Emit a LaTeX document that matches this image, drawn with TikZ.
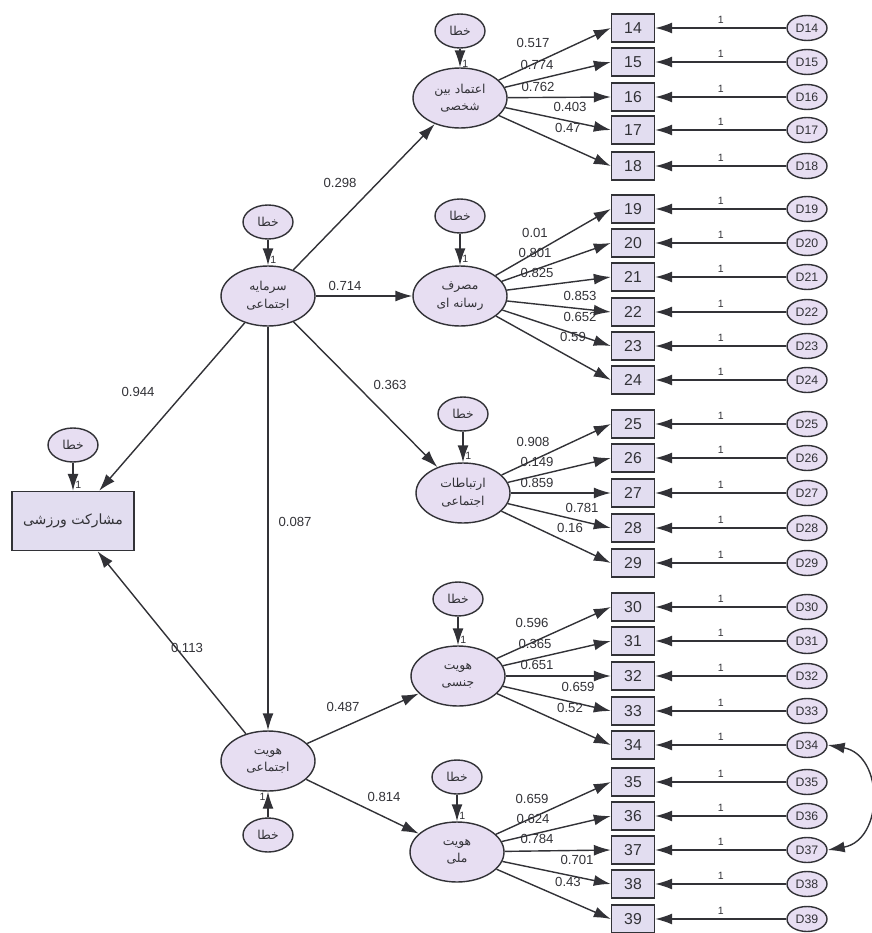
\documentclass[tikz,border=0pt]{standalone}
\usepackage{fontspec}
\setmainfont{Liberation Sans}
\newfontfamily\arabicfont[Script=Arabic]{DejaVu Sans}
\TeXXeTstate=1
\usetikzlibrary{arrows.meta,shapes.geometric}
\newcommand{\fa}[1]{{\arabicfont\beginR #1\endR}}
\definecolor{lav}{RGB}{231,222,242}
\definecolor{boxfill}{RGB}{226,221,240}
\definecolor{ink}{RGB}{50,50,55}
\tikzset{
  latent/.style={ellipse,draw=ink,thick,fill=lav,text=ink,minimum width=1.88cm,minimum height=1.2cm,inner sep=1pt,align=center,font=\fontsize{7}{10}\selectfont},
  resid/.style={ellipse,draw=ink,thick,fill=lav,text=ink,minimum width=1cm,minimum height=0.68cm,inner sep=1pt,font=\fontsize{7}{8}\selectfont},
  dvar/.style={ellipse,draw=ink,thick,fill=lav,text=ink,minimum width=0.8cm,minimum height=0.5cm,inner sep=0pt,font=\fontsize{7}{8}\selectfont},
  obs/.style={rectangle,draw=ink,thick,fill=boxfill,text=ink,minimum width=0.86cm,minimum height=0.56cm,font=\fontsize{9}{10}\selectfont},
  arr/.style={draw=ink,thick,-{Latex[length=3.4mm,width=2.2mm]}},
  coef/.style={font=\fontsize{7.5}{8}\selectfont,text=ink,inner sep=0pt},
  one/.style={font=\fontsize{6}{7}\selectfont,text=ink,inner sep=1pt}
}
\begin{document}
\begin{tikzpicture}[x=0.02cm,y=-0.02cm]
  \useasboundingbox (0,0) rectangle (872,933);

  \node[latent] (capital) at (268,296) {\fa{سرمایه}\\\fa{اجتماعی}};
  \node[latent] (identity) at (268,761) {\fa{هویت}\\\fa{اجتماعی}};
  \node[latent] (trust) at (460,98) {\fa{اعتماد بین}\\\fa{شخصی}};
  \node[latent] (media) at (460,296) {\fa{مصرف}\\\fa{رسانه ای}};
  \node[latent] (comm) at (463,493) {\fa{ارتباطات}\\\fa{اجتماعی}};
  \node[latent] (gender) at (458,676) {\fa{هویت}\\\fa{جنسی}};
  \node[latent] (nation) at (457,852) {\fa{هویت}\\\fa{ملی}};
  \node[obs,minimum width=2.44cm,minimum height=1.18cm,font=\fontsize{8}{9}\selectfont] (sport) at (73,521) {\fa{مشارکت ورزشی}};

  % error terms
  \foreach \pos/\name/\side in {{(268,222)/capital/right}, {(268,835)/identity/left}, {(460,31)/trust/right}, {(460,216)/media/right}, {(463,414)/comm/right}, {(458,599)/gender/right}, {(457,777)/nation/right}, {(73,445)/sport/right}}
  {
    \node[resid] (e-\name) at \pos {\fa{خطا}};
    \draw[arr] (e-\name) -- node[one,pos=0.8,\side]{1} (\name);
  }

  \foreach \pos/\source/\dest/\val in {{(340,183)/capital/trust/0.298}, {(345,286)/capital/media/0.714}, {(390,385)/capital/comm/0.363}, {(138,392)/capital/sport/0.944}, {(295,522)/capital/identity/0.087}, {(187,648)/identity/sport/0.113}, {(343,707)/identity/gender/0.487}, {(384,797)/identity/nation/0.814}}
  {
    \draw[arr] (\source) -- (\dest);
    \node[coef] (c-\source-\dest) at \pos {\val};
  }

  % indicators
  \foreach \n/\y in {14/28, 15/62, 16/97, 17/130, 18/166, 19/209, 20/243, 21/277, 22/312, 23/346, 24/380, 25/424, 26/458, 27/493, 28/528, 29/563, 30/607, 31/641, 32/676, 33/711, 34/745, 35/782, 36/816, 37/850, 38/884, 39/919}
  {
    \node[obs] (x\n) at (633,\y) {\n};
    \node[dvar] (d\n) at (807,\y) {D\n};
    \draw[arr] (d\n) -- node[one,above=1pt]{1} (x\n);
  }

  \foreach \pos/\lat/\n/\val in {{(533,43)/trust/14/0.517}, {(537,65)/trust/15/0.774}, {(538,87)/trust/16/0.762}, {(570,107)/trust/17/0.403}, {(568,128)/trust/18/0.47},
    {(535,233)/media/19/0.01}, {(535,253)/media/20/0.801}, {(537,273)/media/21/0.825}, {(580,296)/media/22/0.853}, {(580,317)/media/23/0.652}, {(573,337)/media/24/0.59},
    {(533,442)/comm/25/0.908}, {(537,462)/comm/26/0.149}, {(537,483)/comm/27/0.859}, {(582,508)/comm/28/0.781}, {(570,528)/comm/29/0.16},
    {(532,623)/gender/30/0.596}, {(535,644)/gender/31/0.365}, {(537,665)/gender/32/0.651}, {(578,687)/gender/33/0.659}, {(570,708)/gender/34/0.52},
    {(532,799)/nation/35/0.659}, {(533,819)/nation/36/0.624}, {(537,839)/nation/37/0.784}, {(577,860)/nation/38/0.701}, {(568,882)/nation/39/0.43}}
  {
    \draw[arr] (\lat) -- (x\n.west);
    \node[coef] (c\n) at \pos {\val};
  }

  \draw[draw=ink,thick,{Latex[length=3.4mm,width=2.2mm]}-{Latex[length=3.4mm,width=2.2mm]}] (d34.east) to[bend left=80,looseness=1.4] (d37.east);
\end{tikzpicture}
\end{document}
